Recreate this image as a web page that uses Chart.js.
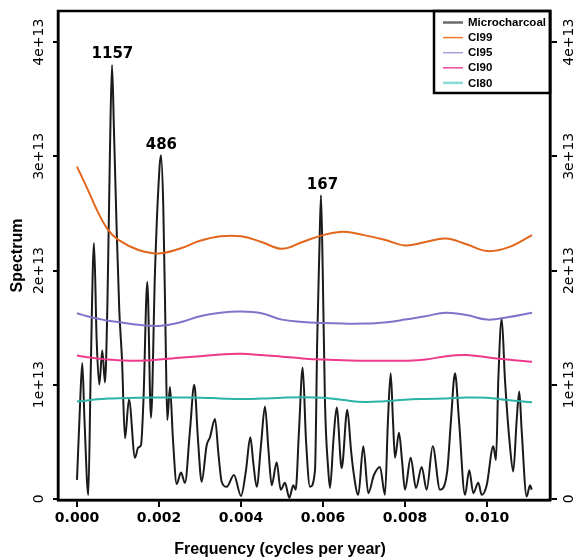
<!DOCTYPE html>
<html>
<head>
<meta charset="utf-8">
<script src="https://cdn.jsdelivr.net/npm/chart.js@4.4.1/dist/chart.umd.min.js"></script>
<style>
  html, body { margin: 0; padding: 0; background: #fff; }
  #wrap { width: 579px; height: 560px; position: relative; }
</style>
</head>
<body>
<div id="wrap"><canvas id="spectrumChart"></canvas></div>
<script>
// spectrum values are in units of 1e13
const freq = [0, 0.000073, 0.000129, 0.000183, 0.000276, 0.000334, 0.000415, 0.00048, 0.000544, 0.000617,
  0.000683, 0.000744, 0.000805, 0.000854, 0.000902, 0.000968, 0.001032, 0.001098, 0.001171, 0.001268,
  0.001415, 0.001495, 0.001561, 0.001622, 0.001715, 0.001805, 0.001902, 0.001983, 0.002049, 0.002105,
  0.002163, 0.002202, 0.002268, 0.002341, 0.002432, 0.002537, 0.002634, 0.002756, 0.002861, 0.002951,
  0.003041, 0.003163, 0.003244, 0.003366, 0.003451, 0.003529, 0.003651, 0.003829, 0.004, 0.004122,
  0.004227, 0.004305, 0.004383, 0.004488, 0.004585, 0.00467, 0.004749, 0.004871, 0.004968, 0.005073,
  0.005178, 0.005276, 0.005334, 0.005415, 0.005505, 0.005585, 0.005683, 0.005805, 0.005861, 0.00591,
  0.005951, 0.005993, 0.006049, 0.006129, 0.006171, 0.006256, 0.006334, 0.006456, 0.006593, 0.006683,
  0.006739, 0.006861, 0.006983, 0.007105, 0.007244, 0.00739, 0.007512, 0.007585, 0.007651, 0.007707,
  0.007756, 0.007854, 0.007927, 0.008, 0.008139, 0.008268, 0.008407, 0.008529, 0.008676, 0.008854,
  0.009032, 0.009122, 0.00922, 0.009317, 0.009463, 0.009568, 0.009666, 0.009788, 0.009871, 0.009993,
  0.010154, 0.01022, 0.010276, 0.010359, 0.010439, 0.010561, 0.010641, 0.010724, 0.010788, 0.010846,
  0.010968, 0.011049, 0.01109];
const microcharcoal = [0.166, 0.81, 1.19, 0.69, 0.035, 1.10, 2.24, 1.39, 1.0, 1.30,
  1.02, 1.74, 3.06, 3.80, 3.23, 2.36, 1.65, 1.22, 0.53, 0.87,
  0.36, 0.45, 0.47, 0.87, 1.90, 0.71, 1.98, 2.71, 3.01, 2.56,
  1.39, 0.69, 0.98, 0.52, 0.13, 0.23, 0.14, 0.60, 1.00, 0.52,
  0.15, 0.47, 0.54, 0.70, 0.39, 0.15, 0.105, 0.21, 0.026, 0.25,
  0.54, 0.30, 0.105, 0.47, 0.81, 0.43, 0.12, 0.32, 0.08, 0.14,
  0.01, 0.12, 0.08, 0.60, 1.15, 0.52, 0.105, 0.25, 1.42, 2.15,
  2.66, 2.01, 0.84, 0.25, 0.096, 0.52, 0.80, 0.27, 0.78, 0.43,
  0.25, 0.035, 0.46, 0.05, 0.21, 0.28, 0.035, 0.69, 1.10, 0.69,
  0.36, 0.58, 0.34, 0.08, 0.36, 0.096, 0.28, 0.08, 0.46, 0.08,
  0.25, 0.69, 1.10, 0.69, 0.035, 0.25, 0.05, 0.14, 0.035, 0.12,
  0.46, 0.34, 1.04, 1.58, 1.04, 0.46, 0.24, 0.69, 0.94, 0.60,
  0.02, 0.12, 0.08];

const ciFreq = [0, 0.00025, 0.0005, 0.00075, 0.001, 0.0015, 0.002, 0.0025, 0.003, 0.0035, 0.004, 0.0045,
  0.005, 0.0055, 0.006, 0.0065, 0.007, 0.0075, 0.008, 0.0085, 0.009, 0.0095, 0.01, 0.0105, 0.0111];
const ci99 = [2.91, 2.72, 2.52, 2.36, 2.27, 2.18, 2.15, 2.19, 2.26, 2.30, 2.30, 2.25,
  2.19, 2.25, 2.31, 2.34, 2.31, 2.27, 2.22, 2.25, 2.28, 2.23, 2.17, 2.20, 2.31];
const ci95 = [1.625, 1.60, 1.58, 1.56, 1.55, 1.525, 1.515, 1.545, 1.60, 1.63, 1.64, 1.625,
  1.57, 1.55, 1.54, 1.535, 1.535, 1.545, 1.57, 1.60, 1.63, 1.61, 1.57, 1.59, 1.63];
const ci90 = [1.255, 1.24, 1.23, 1.22, 1.215, 1.21, 1.22, 1.235, 1.25, 1.265, 1.27, 1.26,
  1.245, 1.23, 1.22, 1.215, 1.21, 1.21, 1.21, 1.22, 1.25, 1.26, 1.24, 1.22, 1.20];
const ci80 = [0.852, 0.862, 0.872, 0.878, 0.882, 0.886, 0.887, 0.887, 0.886, 0.88, 0.874, 0.878,
  0.886, 0.89, 0.885, 0.865, 0.848, 0.855, 0.868, 0.875, 0.88, 0.887, 0.885, 0.865, 0.847];

const xTicks = [0, 0.002, 0.004, 0.006, 0.008, 0.010];
const yTicks = [0, 1, 2, 3, 4];

const peakLabels = ['1157', '486', '167'];
const peakFreq = [0.000864, 0.002058, 0.005988];
const peakValue = [3.80, 3.01, 2.66];

const legendItems = [
  { text: 'Microcharcoal', color: '#6b6b6b', width: 2.5 },
  { text: 'CI99', color: '#f07a2a', width: 1.5 },
  { text: 'CI95', color: '#a69fd8', width: 1.5 },
  { text: 'CI90', color: '#f2489c', width: 1.5 },
  { text: 'CI80', color: '#88dcd4', width: 2.5 }
];

function pts(xs, ys) {
  return xs.map((x, i) => ({ x: x, y: ys[i] }));
}

const frameAndNotes = {
  id: 'frameAndNotes',
  afterDatasetsDraw(chart) {
    const ctx = chart.ctx;
    const a = chart.chartArea;
    const xs = chart.scales.x, ys = chart.scales.y;
    ctx.save();
    // peak labels
    ctx.fillStyle = '#000';
    ctx.font = 'bold 15px "DejaVu Sans"';
    ctx.textAlign = 'center';
    ctx.textBaseline = 'bottom';
    peakLabels.forEach((t, i) => {
      ctx.fillText(t, xs.getPixelForValue(peakFreq[i]), ys.getPixelForValue(peakValue[i]) - 3);
    });
    // x axis title, sits a bit left of the plot centre
    ctx.font = 'bold 16px "Liberation Sans"';
    ctx.textBaseline = 'middle';
    ctx.fillText('Frequency (cycles per year)', (a.left + a.right) / 2 - 24, a.bottom + 50);
    // legend box
    const bx = a.right - 116, by = a.top, bw = 116, bh = 82;
    ctx.fillStyle = '#fff';
    ctx.fillRect(bx, by, bw, bh);
    ctx.strokeStyle = '#000';
    ctx.lineWidth = 2.5;
    ctx.strokeRect(bx, by, bw, bh);
    ctx.font = 'bold 11.5px "Liberation Sans"';
    ctx.textAlign = 'left';
    ctx.textBaseline = 'middle';
    legendItems.forEach((it, i) => {
      const yy = by + 11.5 + i * 15.1;
      ctx.strokeStyle = it.color;
      ctx.lineWidth = it.width;
      ctx.beginPath();
      ctx.moveTo(bx + 9, yy);
      ctx.lineTo(bx + 29, yy);
      ctx.stroke();
      ctx.fillStyle = '#000';
      ctx.fillText(it.text, bx + 34, yy + 0.5);
    });
    // plot frame
    ctx.strokeStyle = '#000';
    ctx.lineWidth = 2.5;
    ctx.strokeRect(a.left, a.top, a.right - a.left, a.bottom - a.top);
    ctx.restore();
  }
};

const yTickOpts = (pad) => ({
  color: '#000',
  font: { family: 'DejaVu Sans', size: 14 },
  minRotation: 90,
  maxRotation: 90,
  crossAlign: 'center',
  padding: pad,
  callback: v => v === 0 ? '0' : v + 'e+13'
});

new Chart(document.getElementById('spectrumChart').getContext('2d'), {
  type: 'line',
  data: {
    datasets: [
      { label: 'CI80', data: pts(ciFreq, ci80), borderColor: '#2bb3a8', borderWidth: 2, pointRadius: 0, tension: 0.4 },
      { label: 'CI90', data: pts(ciFreq, ci90), borderColor: '#ef3a8c', borderWidth: 2, pointRadius: 0, tension: 0.4 },
      { label: 'CI95', data: pts(ciFreq, ci95), borderColor: '#7f74c9', borderWidth: 2, pointRadius: 0, tension: 0.4 },
      { label: 'CI99', data: pts(ciFreq, ci99), borderColor: '#e2661b', borderWidth: 2, pointRadius: 0, tension: 0.4 },
      { label: 'Microcharcoal', data: pts(freq, microcharcoal), borderColor: '#1a1a1a', borderWidth: 2, pointRadius: 0, cubicInterpolationMode: 'monotone' }
    ]
  },
  options: {
    responsive: true,
    maintainAspectRatio: false,
    animation: false,
    layout: { padding: { top: 11, left: 0, right: 0, bottom: 0 } },
    plugins: {
      legend: { display: false },
      tooltip: { enabled: false }
    },
    scales: {
      x: {
        type: 'linear',
        position: 'bottom',
        min: -0.000463,
        max: 0.011537,
        afterBuildTicks: s => { s.ticks = xTicks.map(v => ({ value: v })); },
        afterFit: s => { s.height = 60; },
        ticks: {
          color: '#000',
          font: { family: 'DejaVu Sans', size: 14, weight: 'bold' },
          maxRotation: 0,
          autoSkip: false,
          padding: 3,
          callback: v => v.toFixed(3)
        },
        grid: { drawOnChartArea: false, tickLength: 7, color: '#000', lineWidth: 2 },
        border: { color: '#000', width: 2.5 }
      },
      y: {
        position: 'left',
        min: -0.01,
        max: 4.273,
        afterBuildTicks: s => { s.ticks = yTicks.map(v => ({ value: v })); },
        afterFit: s => { s.width = 58; },
        ticks: yTickOpts(-10),
        grid: { drawOnChartArea: false, tickLength: 5, color: '#000', lineWidth: 2 },
        border: { color: '#000', width: 2.5 },
        title: {
          display: true,
          text: 'Spectrum',
          color: '#000',
          font: { family: 'Liberation Sans', size: 16, weight: 'bold' },
          padding: { top: 8, bottom: 0 }
        }
      },
      y2: {
        position: 'right',
        min: -0.01,
        max: 4.273,
        afterBuildTicks: s => { s.ticks = yTicks.map(v => ({ value: v })); },
        afterFit: s => { s.width = 29; },
        ticks: yTickOpts(-11),
        grid: { drawOnChartArea: false, tickLength: 7, color: '#000', lineWidth: 2 },
        border: { color: '#000', width: 2.5 }
      }
    }
  },
  plugins: [frameAndNotes]
});
</script>
</body>
</html>
